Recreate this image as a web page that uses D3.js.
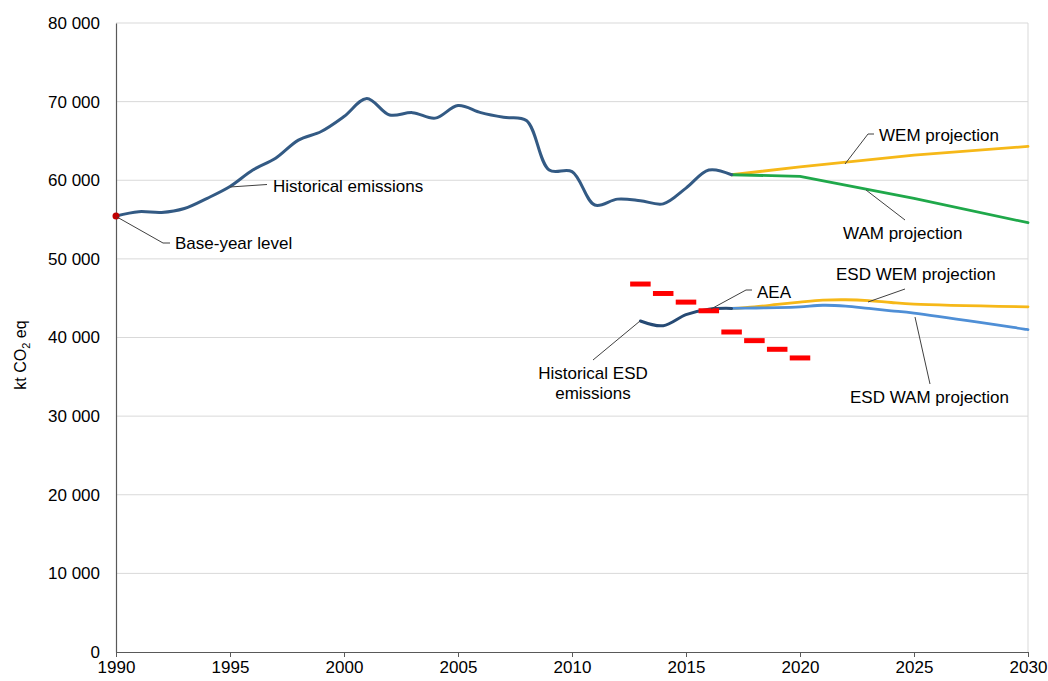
<!DOCTYPE html>
<html>
<head>
<meta charset="utf-8">
<script src="https://cdn.jsdelivr.net/npm/d3@7"></script>
<style>
  html, body { margin: 0; padding: 0; background: #fff; }
  svg { display: block; font-family: "Liberation Sans", Arial, sans-serif; }
</style>
</head>
<body>
<svg id="chart" width="1048" height="681"></svg>
<script>
// Total emissions, kt CO2 eq
const histYears = [1990,1991,1992,1993,1994,1995,1996,1997,1998,1999,2000,2001,2002,2003,2004,2005,2006,2007,2008,2009,2010,2011,2012,2013,2014,2015,2016,2017];
const histValues = [55450,56000,55900,56400,57700,59200,61300,62800,65100,66200,68100,70400,68300,68600,67900,69500,68600,68000,67600,61300,61100,56850,57600,57400,57000,59000,61300,60700];

const projYears = [2017,2020,2025,2030];
const wemValues = [60700,61700,63200,64300];
const wamValues = [60700,60500,57700,54600];

// Effort Sharing Decision sectors
const esdHistYears = [2013,2014,2015,2016,2017];
const esdHistValues = [42100,41500,42900,43600,43700];

const esdProjYears = [2017,2018,2019,2020,2021,2022,2023,2024,2025,2030];
const esdWemValues = [43700,43900,44200,44500,44750,44800,44700,44450,44250,43900];
const esdWamValues = [43700,43750,43800,43900,44100,44000,43700,43400,43100,41000];

// Annual emission allocations
const aeaYears = [2013,2014,2015,2016,2017,2018,2019,2020];
const aeaValues = [46800,45600,44500,43400,40700,39600,38500,37400];

const xTicks = [1990,1995,2000,2005,2010,2015,2020,2025,2030];
const yTicks = [0,10000,20000,30000,40000,50000,60000,70000,80000];

const svg = d3.select("#chart");
const m = { left: 116, right: 1028, top: 23, bottom: 652 };

const x = d3.scaleLinear().domain([1990, 2030]).range([m.left, m.right]);
const y = d3.scaleLinear().domain([0, 80000]).range([m.bottom, m.top]);

const fmt = v => d3.format(",")(v).replace(/,/g, " ");

// gridlines
svg.append("g")
  .selectAll("line").data(yTicks.filter(v => v > 0)).join("line")
  .attr("x1", m.left).attr("x2", m.right)
  .attr("y1", d => y(d)).attr("y2", d => y(d))
  .attr("stroke", "#d9d9d9").attr("stroke-width", 1);

// right border of plot area
svg.append("line")
  .attr("x1", m.right).attr("x2", m.right).attr("y1", m.top).attr("y2", m.bottom)
  .attr("stroke", "#d9d9d9");

// y axis
const yAxis = svg.append("g").attr("transform", `translate(${m.left},0)`)
  .call(d3.axisLeft(y).tickValues(yTicks).tickFormat(fmt).tickSize(0).tickPadding(16));
yAxis.select(".domain").attr("stroke", "#595959").attr("stroke-width", 1.2);
yAxis.selectAll("text").attr("font-size", 17).attr("fill", "#000")
  .attr("font-family", "Liberation Sans, Arial, sans-serif");

// x axis
const xAxis = svg.append("g").attr("transform", `translate(0,${m.bottom})`)
  .call(d3.axisBottom(x).tickValues(xTicks).tickFormat(d3.format("d")).tickSize(5).tickSizeOuter(0).tickPadding(4));
xAxis.select(".domain").attr("stroke", "#595959").attr("stroke-width", 1.2);
xAxis.selectAll(".tick line").attr("stroke", "#595959");
xAxis.selectAll("text").attr("font-size", 17).attr("fill", "#000")
  .attr("font-family", "Liberation Sans, Arial, sans-serif");

// y axis title
const yTitle = svg.append("text")
  .attr("transform", "translate(26,355) rotate(-90)")
  .attr("text-anchor", "middle").attr("font-size", 16).attr("fill", "#000");
yTitle.append("tspan").text("kt CO");
yTitle.append("tspan").attr("font-size", 11).attr("dy", 4).text("2");
yTitle.append("tspan").attr("dy", -4).text(" eq");

const smooth = d3.line().x(d => x(d[0])).y(d => y(d[1])).curve(d3.curveCatmullRom.alpha(0.5));
const straight = d3.line().x(d => x(d[0])).y(d => y(d[1]));
const zipPts = (xs, vs) => xs.map((t, i) => [t, vs[i]]);

function drawLine(pts, color, width, gen) {
  svg.append("path").datum(pts)
    .attr("d", gen).attr("fill", "none")
    .attr("stroke", color).attr("stroke-width", width)
    .attr("stroke-linejoin", "round").attr("stroke-linecap", "round");
}

// projections
drawLine(zipPts(projYears, wemValues), "#f6b818", 2.8, straight);
drawLine(zipPts(projYears, wamValues), "#1fa84a", 2.8, straight);
drawLine(zipPts(esdProjYears, esdWemValues), "#f6b818", 2.8, smooth);
drawLine(zipPts(esdProjYears, esdWamValues), "#4f8fd6", 2.8, smooth);

// historical series
drawLine(zipPts(histYears, histValues), "#335a84", 3, smooth);
drawLine(zipPts(esdHistYears, esdHistValues), "#264a74", 3, smooth);

// AEA dashes
svg.append("g").selectAll("line").data(zipPts(aeaYears, aeaValues)).join("line")
  .attr("x1", d => x(d[0] - 0.45)).attr("x2", d => x(d[0] + 0.45))
  .attr("y1", d => y(d[1])).attr("y2", d => y(d[1]))
  .attr("stroke", "#ff0000").attr("stroke-width", 5);

// base-year point
svg.append("circle")
  .attr("cx", x(histYears[0])).attr("cy", y(histValues[0])).attr("r", 3.5)
  .attr("fill", "#c00000");

// annotation leaders and labels
function leader(points) {
  svg.append("path")
    .attr("d", d3.line()(points))
    .attr("fill", "none").attr("stroke", "#404040").attr("stroke-width", 1);
}
function label(tx, ty, lines, anchor) {
  const t = svg.append("text").attr("font-size", 17).attr("fill", "#000")
    .attr("text-anchor", anchor || "start");
  lines.forEach((s, i) => {
    t.append("tspan").attr("x", tx).attr("y", ty + i * 20).attr("dy", "0.35em").text(s);
  });
}

leader([[117, 217], [163, 243], [170, 243]]);
label(175, 243, ["Base-year level"]);

leader([[230, 187], [267, 184.5]]);
label(273, 186, ["Historical emissions"]);

leader([[845, 164], [868, 134], [874, 134]]);
label(879, 135, ["WEM projection"]);

leader([[866, 190], [905, 220]]);
label(843, 233, ["WAM projection"]);

leader([[868, 302], [905, 289]]);
label(836, 274, ["ESD WEM projection"]);

leader([[915, 317], [930, 384]]);
label(850, 397, ["ESD WAM projection"]);

leader([[711, 309], [746, 290], [752, 290]]);
label(757, 292, ["AEA"]);

leader([[640, 321], [593, 360]]);
label(593, 373, ["Historical ESD", "emissions"], "middle");
</script>
</body>
</html>
